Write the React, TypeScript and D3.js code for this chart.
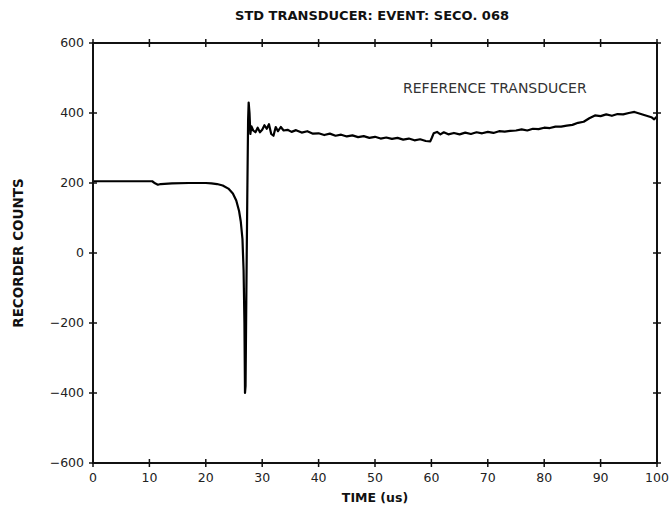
import React from "react";
import * as d3 from "d3";

const title = "STD TRANSDUCER: EVENT: SECO. 068";
const xLabel = "TIME (us)";
const yLabel = "RECORDER COUNTS";
const annotation = "REFERENCE TRANSDUCER";
const xTicks = [0, 10, 20, 30, 40, 50, 60, 70, 80, 90, 100];
const yTicks = [-600, -400, -200, 0, 200, 400, 600];

const timeUs = [
  0, 10.5, 11, 11.5, 12, 14, 17, 20, 21, 22, 23, 24, 24.8, 25.4, 25.9, 26.2, 26.5, 26.7, 26.85, 26.95,
  27.05, 27.2, 27.35, 27.5, 27.6, 27.75, 27.9, 28.1, 28.4, 28.8, 29.2, 29.6, 30, 30.4, 30.8, 31.2, 31.6,
  32, 32.4, 32.8, 33.3, 33.8, 34.5, 35.2, 36, 37, 38, 39, 40, 41, 42, 43, 44, 45, 46, 47, 48, 49, 50, 51,
  52, 53, 54, 55, 56, 57, 58, 59, 59.8, 60.1, 60.4, 61, 61.6, 62.2, 63, 64, 65, 66, 67, 68, 69, 70, 71, 72,
  73, 74, 75, 76, 77, 78, 79, 80, 81, 82, 83, 84, 85, 86, 87, 88, 89, 90, 91, 92, 93, 94, 95, 96, 97, 98,
  99, 99.5, 100,
];
const counts = [
  205, 205, 199, 195, 197, 199, 200, 200, 199, 197, 193, 184, 170, 150, 120, 90, 40, -50, -200, -400,
  -380, -100, 150, 380, 430, 400, 340, 362, 350, 345, 358, 345, 352, 365, 355, 368, 340,
  335, 360, 348, 360, 350, 352, 346, 351, 344, 348, 341, 342, 337, 341, 335, 338, 333, 336, 331, 334, 329, 332, 327,
  330, 326, 329, 324, 327, 322, 325, 320, 319, 330, 342, 346, 339, 345, 339, 343, 339, 344, 340, 345, 342, 346, 343, 348,
  347, 349, 350, 353, 350, 355, 354, 358, 357, 361, 361, 364, 366, 372, 375, 385, 393, 391, 396, 392, 397, 396, 400, 403, 398, 393,
  388, 382, 390,
];

const W = 669;
const H = 509;
const FONT = "'DejaVu Sans', Verdana, sans-serif";

export default function App() {
  const x = d3.scaleLinear().domain([0, 100]).range([93, 657]);
  const y = d3.scaleLinear().domain([-600, 600]).range([463, 43]);
  const data = timeUs.map((t, i) => [t, counts[i]] as [number, number]);
  const line = d3
    .line<[number, number]>()
    .x((d) => x(d[0]))
    .y((d) => y(d[1]));
  const [x0, x1] = x.range();
  const [y0, y1] = y.range();
  const tl = 4;
  return (
    <svg
      width={W}
      height={H}
      style={{ position: "absolute", left: 0, top: 0, background: "#fff" }}
    >
      <rect x={0} y={0} width={W} height={H} fill="#fff" />
      <text x={372} y={20} textAnchor="middle" fontFamily={FONT} fontWeight="bold" fontSize={13} fill="#111">
        {title}
      </text>
      <path d={line(data) || ""} fill="none" stroke="#000" strokeWidth={2.2} strokeLinejoin="round" />
      <rect x={x0} y={y1} width={x1 - x0} height={y0 - y1} fill="none" stroke="#111" strokeWidth={2} />
      {xTicks.map((t) => (
        <g key={"x" + t}>
          <line x1={x(t)} x2={x(t)} y1={y0 - tl} y2={y0 + tl} stroke="#111" strokeWidth={1.5} />
          <line x1={x(t)} x2={x(t)} y1={y1 - tl} y2={y1 + tl} stroke="#111" strokeWidth={1.5} />
          <text x={x(t)} y={y0 + 19} textAnchor="middle" fontFamily={FONT} fontSize={12.5} fill="#222">
            {t}
          </text>
        </g>
      ))}
      {yTicks.map((t) => (
        <g key={"y" + t}>
          <line x1={x0 - tl} x2={x0 + tl} y1={y(t)} y2={y(t)} stroke="#111" strokeWidth={1.5} />
          <line x1={x1 - tl} x2={x1 + tl} y1={y(t)} y2={y(t)} stroke="#111" strokeWidth={1.5} />
          <text x={x0 - 9} y={y(t)} dy="0.35em" textAnchor="end" fontFamily={FONT} fontSize={12.5} fill="#222">
            {t < 0 ? "\u2212" + Math.abs(t) : String(t)}
          </text>
        </g>
      ))}
      <text x={375} y={502} textAnchor="middle" fontFamily={FONT} fontWeight="bold" fontSize={12.5} fill="#111">
        {xLabel}
      </text>
      <text
        transform={`translate(23, ${y(0)}) rotate(-90)`}
        textAnchor="middle"
        fontFamily={FONT}
        fontWeight="bold"
        fontSize={13.5}
        fill="#111"
      >
        {yLabel}
      </text>
      <text x={403} y={93} fontFamily={FONT} fontSize={14} fill="#333">
        {annotation}
      </text>
    </svg>
  );
}
